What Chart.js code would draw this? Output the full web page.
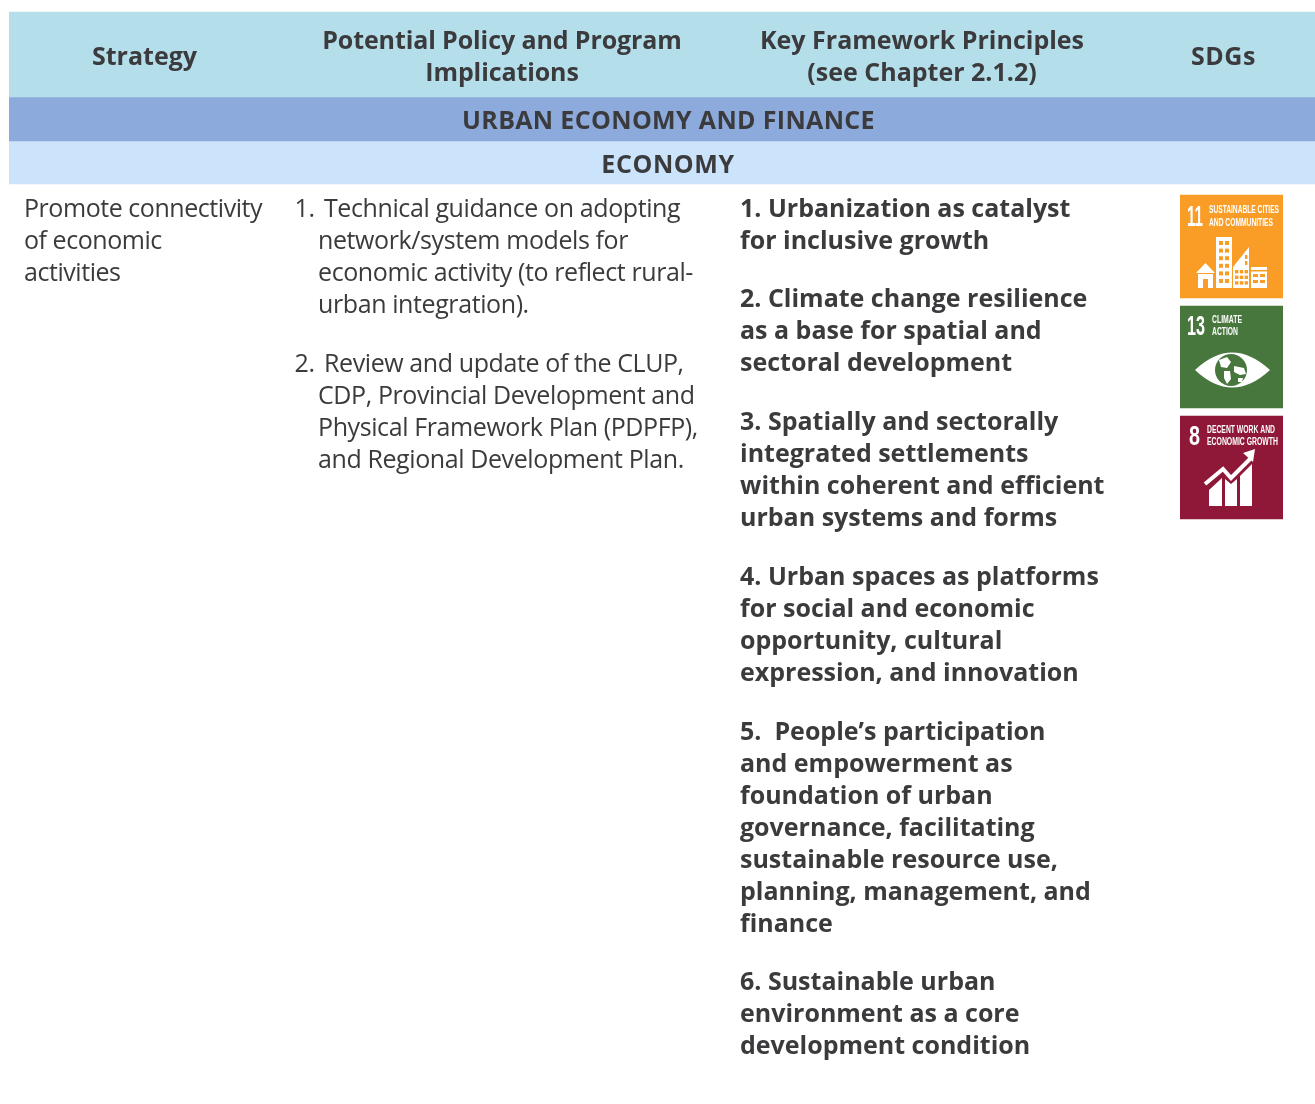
<!DOCTYPE html>
<html lang="en">

<head>
    <meta charset="UTF-8">
    <title>Urban Economy and Finance</title>
    <script src="https://cdn.jsdelivr.net/npm/chart.js"></script>
</head>
<style>
    html, body {
        margin: 0;
        background: #fff;
    }

    #tableChart {
        position: absolute;
        left: 0;
        top: 0;
    }

    #sdgChart {
        position: absolute;
        left: 1180px;
        top: 0;
    }
</style>

<body>
    <canvas id="tableChart" width="1315" height="1104"></canvas>
    <canvas id="sdgChart" width="103" height="1104"></canvas>
    <script>
        // band heights down the page, first one is the empty strip above the table
        const bandNames = ['top', 'header', 'section', 'subsection'];
        const bandHeights = [12, 85, 44, 43];
        const tileNames = ['top', 'SDG 11', 'gap', 'SDG 13', 'gap', 'SDG 8'];
        const tileHeights = [195, 103, 8, 102, 8, 103];

        const strategyHeader = ['Strategy'];
        const policyHeader = ['Potential Policy and Program', 'Implications'];
        const principleHeader = ['Key Framework Principles', '(see Chapter 2.1.2)'];
        const sdgHeader = ['SDGs'];
        const sectionTitle = 'URBAN ECONOMY AND FINANCE';
        const subsectionTitle = 'ECONOMY';

        const strategyLines = ['Promote connectivity', 'of economic', 'activities'];
        const policyItems = [
            ['Technical guidance on adopting', 'network/system models for', 'economic activity (to reflect rural-', 'urban integration).'],
            ['Review and update of the CLUP,', 'CDP, Provincial Development and', 'Physical Framework Plan (PDPFP),', 'and Regional Development Plan.']
        ];
        const principleItems = [
            ['1. Urbanization as catalyst', 'for inclusive growth'],
            ['2. Climate change resilience', 'as a base for spatial and', 'sectoral development'],
            ['3. Spatially and sectorally', 'integrated settlements', 'within coherent and efficient', 'urban systems and forms'],
            ['4. Urban spaces as platforms', 'for social and economic', 'opportunity, cultural', 'expression, and innovation'],
            ['5.  People\u2019s participation', 'and empowerment as', 'foundation of urban', 'governance, facilitating', 'sustainable resource use,', 'planning, management, and', 'finance'],
            ['6. Sustainable urban', 'environment as a core', 'development condition']
        ];

        const ink = '#3b3b3d';
        const bodyFont = '400 25px "Open Sans"';
        const boldFont = '700 25px "Open Sans"';
        const principleGaps = [26, 27, 27, 27, 26];

        function setText(ctx, font, spacing, align) {
            ctx.font = font;
            ctx.letterSpacing = spacing + 'px';
            ctx.textAlign = align;
            ctx.textBaseline = 'alphabetic';
            ctx.fillStyle = ink;
        }

        const tableText = {
            id: 'tableText',
            afterDraw(chart) {
                const ctx = chart.ctx;
                ctx.save();

                // column heads
                setText(ctx, boldFont, 0, 'center');
                ctx.fillText(strategyHeader[0], 144.5, 65);
                setText(ctx, boldFont, -0.1, 'center');
                policyHeader.forEach((t, i) => ctx.fillText(t, 502, 49 + i * 32));
                setText(ctx, boldFont, 0, 'center');
                principleHeader.forEach((t, i) => ctx.fillText(t, 922, 49 + i * 32));
                setText(ctx, boldFont, 0.5, 'center');
                ctx.fillText(sdgHeader[0], 1223.5, 65);
                setText(ctx, boldFont, 0.34, 'center');
                ctx.fillText(sectionTitle, 668.5, 129);
                setText(ctx, boldFont, 0.6, 'center');
                ctx.fillText(subsectionTitle, 668, 173);

                // strategy column
                setText(ctx, bodyFont, -0.45, 'left');
                strategyLines.forEach((t, i) => ctx.fillText(t, 24, 217 + i * 32));

                // policy column, hanging numbers
                setText(ctx, bodyFont, -0.4, 'left');
                let y = 217;
                policyItems.forEach((lines, n) => {
                    ctx.fillText((n + 1) + '.', 294.5, y);
                    lines.forEach((t, i) => {
                        ctx.fillText(t, i == 0 ? 324 : 318, y);
                        y += 32;
                    });
                    y += 27;
                });

                // principles column
                setText(ctx, boldFont, 0, 'left');
                y = 217;
                principleItems.forEach((lines, n) => {
                    lines.forEach(t => {
                        ctx.fillText(t, 740, y);
                        y += 32;
                    });
                    y += principleGaps[n] || 0;
                });

                ctx.restore();
            }
        };

        // squeeze a label into a given width so it looks like the condensed tile type
        function tileLabel(ctx, text, x, y, w, h) {
            ctx.save();
            ctx.font = 'bold 20px "Liberation Sans Narrow", "Liberation Sans"';
            ctx.textAlign = 'left';
            ctx.textBaseline = 'alphabetic';
            ctx.letterSpacing = '0px';
            const m = ctx.measureText(text);
            ctx.translate(x, y + h);
            ctx.scale(w / m.width, h / 14.4);
            ctx.fillStyle = '#fff';
            ctx.fillText(text, 0, 0);
            ctx.restore();
        }

        function poly(ctx, pts) {
            ctx.beginPath();
            pts.forEach((p, i) => i == 0 ? ctx.moveTo(p[0], p[1]) : ctx.lineTo(p[0], p[1]));
            ctx.closePath();
            ctx.fill();
        }

        function windows(ctx, x, y, cols, rows, w, h, dx, dy) {
            for (let c = 0; c < cols; c++) {
                for (let r = 0; r < rows; r++) {
                    ctx.fillRect(x + c * dx, y + r * dy, w, h);
                }
            }
        }

        function drawCities(ctx, bg) {
            tileLabel(ctx, '11', 7, 10, 16, 21);
            tileLabel(ctx, 'SUSTAINABLE CITIES', 29, 10, 70, 8);
            tileLabel(ctx, 'AND COMMUNITIES', 29, 23, 64, 8);
            ctx.fillStyle = '#fff';
            poly(ctx, [[25.5, 68], [35, 78], [16, 78]]);
            ctx.fillRect(18, 79, 15, 14);
            ctx.fillRect(36, 42, 16, 51);
            poly(ctx, [[53, 93], [53, 72], [69, 52], [69, 93]]);
            ctx.fillRect(71, 72, 16, 21);
            ctx.fillStyle = bg;
            ctx.fillRect(23, 84, 5, 9);
            windows(ctx, 39, 46, 2, 6, 4, 4, 6, 7.6);
            windows(ctx, 55, 75, 3, 3, 3.4, 3.4, 4.8, 5.6);
            windows(ctx, 65, 60, 1, 2, 2.4, 4, 0, 6);
            ctx.fillRect(71, 75, 16, 1.5);
            windows(ctx, 73, 79, 2, 2, 5, 3, 7, 6);
        }

        function drawClimate(ctx, bg) {
            tileLabel(ctx, '13', 7, 9, 18, 20);
            tileLabel(ctx, 'CLIMATE', 32, 9, 30, 8);
            tileLabel(ctx, 'ACTION', 32, 21, 26, 8);
            ctx.fillStyle = '#fff';
            ctx.beginPath();
            ctx.moveTo(15, 64);
            ctx.quadraticCurveTo(52, 29, 90, 64);
            ctx.quadraticCurveTo(52, 99, 15, 64);
            ctx.fill();
            ctx.fillStyle = bg;
            ctx.beginPath();
            ctx.arc(51, 64, 16, 0, Math.PI * 2);
            ctx.fill();
            ctx.fillStyle = '#fff';
            poly(ctx, [[39, 54], [47, 51], [51, 56], [47, 62], [41, 61]]);
            poly(ctx, [[44, 65], [50, 65], [51, 73], [47, 78], [44, 72]]);
            poly(ctx, [[54, 60], [64, 62], [66, 68], [60, 69], [54, 66]]);
            poly(ctx, [[58, 72], [63, 72], [62, 76], [58, 76]]);
        }

        function drawGrowth(ctx, bg) {
            tileLabel(ctx, '8', 9, 9, 11, 20);
            tileLabel(ctx, 'DECENT WORK AND', 27, 9, 68, 8);
            tileLabel(ctx, 'ECONOMIC GROWTH', 27, 21, 71, 8);
            ctx.fillStyle = '#fff';
            poly(ctx, [[29, 74], [42, 62], [42, 90], [29, 90]]);
            poly(ctx, [[45, 63], [51, 68], [57, 63], [57, 90], [45, 90]]);
            poly(ctx, [[60, 60], [72, 48], [72, 90], [60, 90]]);
            ctx.strokeStyle = bg;
            ctx.lineWidth = 7;
            ctx.beginPath();
            ctx.moveTo(25, 68);
            ctx.lineTo(43, 53);
            ctx.lineTo(51, 62);
            ctx.lineTo(72, 41);
            ctx.stroke();
            ctx.strokeStyle = '#fff';
            ctx.lineWidth = 4;
            ctx.stroke();
            poly(ctx, [[75, 33], [73, 46], [63, 37]]);
        }

        const tileArt = {
            1: drawCities,
            3: drawClimate,
            5: drawGrowth
        };

        const sdgArt = {
            id: 'sdgArt',
            afterDraw(chart) {
                const ctx = chart.ctx;
                Object.keys(tileArt).forEach(i => {
                    const bar = chart.getDatasetMeta(i).data[0];
                    ctx.save();
                    ctx.translate(bar.x - bar.width / 2, bar.base);
                    tileArt[i](ctx, chart.data.datasets[i].backgroundColor);
                    ctx.restore();
                });
            }
        };

        function stackedColumn(id, label, names, heights, colors, padLeft, plugin) {
            new Chart(document.getElementById(id), {
                type: 'bar',
                data: {
                    labels: [label],
                    datasets: names.map((name, i) => ({
                        label: name,
                        data: [heights[i]],
                        backgroundColor: colors[i],
                        categoryPercentage: 1,
                        barPercentage: 1
                    }))
                },
                options: {
                    responsive: false,
                    animation: false,
                    layout: { padding: { left: padLeft } },
                    plugins: { legend: { display: false }, tooltip: { enabled: false } },
                    scales: {
                        x: { display: false, stacked: true },
                        y: { display: false, stacked: true, reverse: true, min: 0, max: 1104 }
                    }
                },
                plugins: [plugin]
            });
        }

        stackedColumn('tableChart', 'table', bandNames, bandHeights,
            ['rgba(0,0,0,0)', '#b5deeb', '#8caadb', '#cce3fc'], 9, tableText);
        stackedColumn('sdgChart', 'SDGs', tileNames, tileHeights,
            ['rgba(0,0,0,0)', '#f99d26', 'rgba(0,0,0,0)', '#48773e', 'rgba(0,0,0,0)', '#8f1838'], 0, sdgArt);
    </script>
</body>

</html>
